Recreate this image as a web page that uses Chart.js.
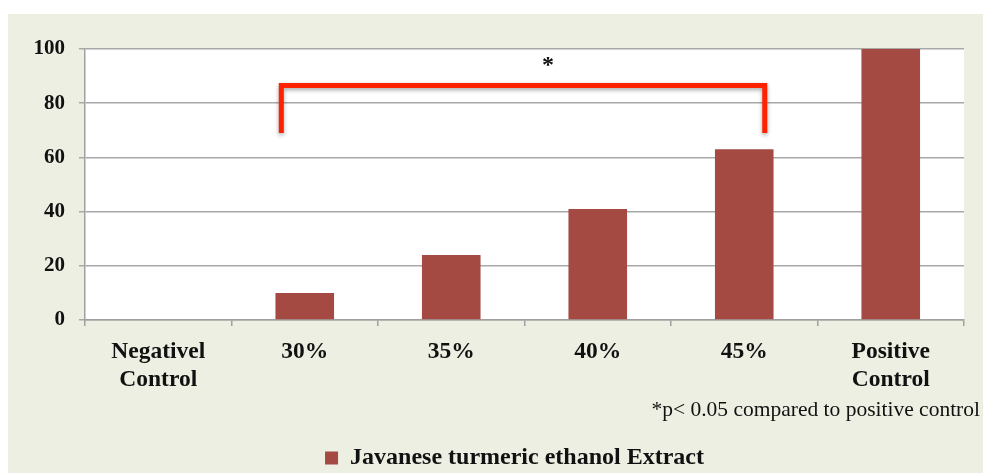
<!DOCTYPE html>
<html>
<head>
<meta charset="utf-8">
<script src="https://cdn.jsdelivr.net/npm/chart.js@4/dist/chart.umd.min.js"></script>
<style>
  html, body { margin: 0; padding: 0; background: #ffffff; }
  #wrap { width: 983px; height: 473px; position: relative; }
</style>
</head>
<body>
<div id="wrap"><canvas id="chartResult" width="983" height="473"></canvas></div>
<script>
var categories = [['Negativel', 'Control'], '30%', '35%', '40%', '45%', ['Positive', 'Control']];
var seriesValues = [0, 10, 24, 41, 63, 100];
var seriesName = 'Javanese turmeric ethanol Extract';
var yTicks = [0, 20, 40, 60, 80, 100];
var footnote = '*p< 0.05 compared to positive control';
// bracket: from (category 0.84, 69) up to 86.5 across to (category 4.14, 69)
var bracketX = [0.84, 4.14];
var bracketY = [69, 86.5];
var starX = 2.66;

var serif = '"Liberation Serif", "Times New Roman", serif';

var backgroundPlugin = {
    id: 'bg',
    afterLayout: function (chart) {
        // nudge legend a bit lower/left like the original
        var lg = chart.legend;
        lg.top += 7; lg.bottom += 7;
        lg.left -= 10; lg.right -= 10;
    },
    beforeDraw: function (chart) {
        var ctx = chart.ctx;
        ctx.save();
        ctx.fillStyle = '#ffffff';
        ctx.fillRect(0, 0, chart.width, chart.height);
        ctx.fillStyle = '#eeefe3';
        ctx.fillRect(8, 14, chart.width - 8, chart.height - 14);
        var a = chart.chartArea;
        ctx.fillStyle = '#ffffff';
        ctx.fillRect(a.left, a.top, a.right - a.left, a.bottom - a.top);
        ctx.restore();
    }
};

var bracketPlugin = {
    id: 'bracket',
    afterDatasetsDraw: function (chart) {
        var ctx = chart.ctx;
        var x = chart.scales.x, y = chart.scales.y;
        var x1 = x.getPixelForValue(bracketX[0]);
        var x2 = x.getPixelForValue(bracketX[1]);
        var yb = y.getPixelForValue(bracketY[0]);
        var yt = y.getPixelForValue(bracketY[1]);
        ctx.save();
        ctx.shadowColor = 'rgba(0,0,0,0.35)';
        ctx.shadowBlur = 4;
        ctx.shadowOffsetY = 2;
        ctx.strokeStyle = '#ff2200';
        ctx.lineWidth = 5;
        ctx.lineJoin = 'miter';
        ctx.beginPath();
        ctx.moveTo(x1, yb);
        ctx.lineTo(x1, yt);
        ctx.lineTo(x2, yt);
        ctx.lineTo(x2, yb);
        ctx.stroke();
        ctx.restore();

        ctx.save();
        ctx.fillStyle = '#111111';
        ctx.font = 'bold 24px ' + serif;
        ctx.textAlign = 'center';
        ctx.textBaseline = 'middle';
        ctx.fillText('*', x.getPixelForValue(starX), 66);
        ctx.font = '21.5px ' + serif;
        ctx.textAlign = 'right';
        ctx.fillText(footnote, 980, 410);
        ctx.restore();
    }
};

var mainChart = new Chart(document.getElementById('chartResult'), {
    type: 'bar',
    data: {
        labels: categories,
        datasets: [{
            label: seriesName,
            data: seriesValues,
            backgroundColor: '#a44a42',
            borderWidth: 0,
            barPercentage: 0.4,
            categoryPercentage: 1
        }]
    },
    options: {
        responsive: false,
        animation: false,
        devicePixelRatio: 1,
        layout: { padding: { top: 49, right: 19, left: 0, bottom: 0 } },
        scales: {
            x: {
                offset: true,
                grid: {
                    offset: true,
                    drawOnChartArea: false,
                    drawTicks: true,
                    tickLength: 6,
                    color: '#a0a0a0',
                    lineWidth: 1.5
                },
                border: { color: '#a0a0a0', width: 1.5 },
                ticks: {
                    color: '#111111',
                    font: { family: serif, size: 23.5, weight: 'bold' },
                    padding: 12,
                    maxRotation: 0,
                    autoSkip: false
                },
                afterFit: function (s) { s.height = 116; }
            },
            y: {
                min: 0,
                max: 100,
                afterBuildTicks: function (s) { s.ticks = yTicks.map(function (v) { return { value: v }; }); },
                grid: {
                    color: '#a8a8a8',
                    lineWidth: 1.5,
                    tickLength: 6
                },
                border: { color: '#a0a0a0', width: 1.5 },
                ticks: {
                    color: '#111111',
                    font: { family: serif, size: 21, weight: 'bold' },
                    padding: 14
                },
                afterFit: function (s) { s.width = 85; }
            }
        },
        plugins: {
            legend: {
                position: 'bottom',
                fullSize: false,
                labels: {
                    color: '#111111',
                    boxWidth: 13,
                    boxHeight: 13,
                    padding: 3,
                    font: { family: serif, size: 24, weight: 'bold' }
                }
            },
            tooltip: { enabled: false }
        }
    },
    plugins: [backgroundPlugin, bracketPlugin]
});
</script>
</body>
</html>
